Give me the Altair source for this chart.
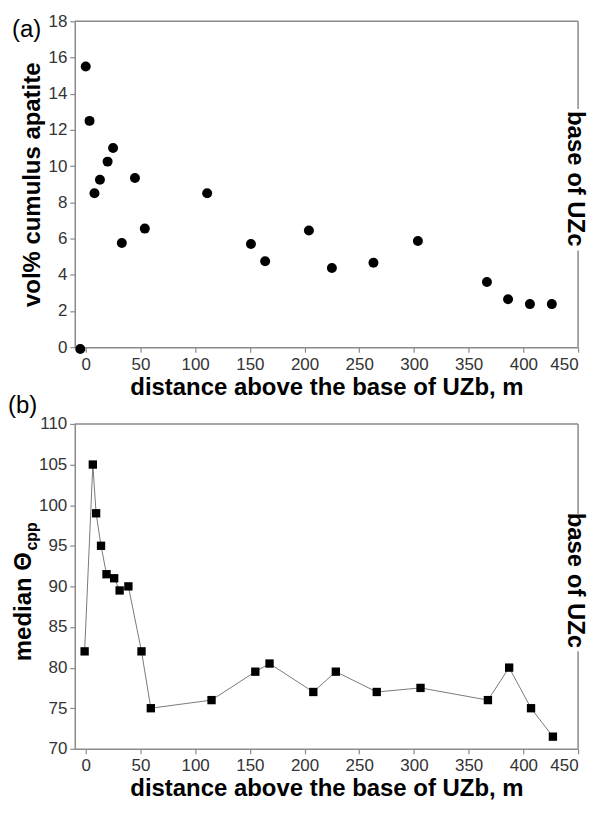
import altair as alt
import pandas as pd

# ---------------- data ----------------
dist_a = [-5, 0, 3.5, 8, 13, 20, 25, 33, 45, 54, 111, 151, 164, 204, 225, 263, 303.6, 366.7, 386, 406, 426]
apatite = [-0.1, 15.5, 12.5, 8.5, 9.25, 10.25, 11, 5.75, 9.35, 6.55, 8.5, 5.7, 4.75, 6.45, 4.37, 4.66, 5.87, 3.6, 2.65, 2.38, 2.38]

dist_b = [-1, 6.5, 9.5, 14, 19, 26, 31, 39, 51, 59.5, 115, 155, 168, 208, 228.6, 266, 306, 367.6, 387, 407, 427]
theta = [82, 105, 99, 95, 91.5, 91, 89.5, 90, 82, 75, 76, 79.5, 80.5, 77, 79.5, 77, 77.5, 76, 80, 75, 71.5]

x_ticks = [0, 50, 100, 150, 200, 250, 300, 350, 400, 450]
ya_ticks = [0, 2, 4, 6, 8, 10, 12, 14, 16, 18]
yb_ticks = [70, 75, 80, 85, 90, 95, 100, 105, 110]

x_title = "distance above the base of UZb, m"
ya_title = "vol% cumulus apatite"
yb_title_main = "median \u0398"
yb_title_sub = "cpp"
note = "base of UZc"

df_a = pd.DataFrame({"dist": dist_a, "val": apatite})
df_b = pd.DataFrame({"dist": dist_b, "val": theta})
one = pd.DataFrame({"k": [0]})

FONT = "Liberation Sans"
GRAY = "#8a8a8a"
W = 505
HA, HB = 327, 326


def xenc():
    return alt.X(
        "dist:Q",
        scale=alt.Scale(domain=[-10, 450], nice=False, zero=False),
        axis=alt.Axis(values=x_ticks, title=x_title, grid=False, tickSize=5,
                      labelPadding=4, titlePadding=3, labelOverlap=False),
    )


def frame(h, gap_top, gap_bot):
    rule = dict(color=GRAY, strokeWidth=1.5)
    top = alt.Chart(one).mark_rule(**rule).encode(
        x=alt.value(0), x2=alt.value(W), y=alt.value(0))
    r1 = alt.Chart(one).mark_rule(**rule).encode(
        x=alt.value(W), y=alt.value(0), y2=alt.value(gap_top))
    r2 = alt.Chart(one).mark_rule(**rule).encode(
        x=alt.value(W), y=alt.value(gap_bot), y2=alt.value(h))
    return top + r1 + r2


def note_mark(yc):
    return alt.Chart(one).mark_text(text=note, font=FONT, fontSize=24, fontWeight="bold",
                                    angle=90, align="center", baseline="middle",
                                    color="black").encode(
        x=alt.value(W - 3), y=alt.value(yc))


# ---------------- panel (a) ----------------
ya = alt.Y("val:Q", scale=alt.Scale(domain=[0, 18], nice=False, zero=False),
           axis=alt.Axis(values=ya_ticks, title=ya_title, grid=False, tickSize=5,
                         labelPadding=3, titlePadding=3, labelOverlap=False))
pts_a = alt.Chart(df_a).mark_circle(size=100, color="black", opacity=1).encode(x=xenc(), y=ya)
lab_a = alt.Chart(one).mark_text(text="(a)", font=FONT, fontSize=24, align="left",
                                 baseline="alphabetic", color="black").encode(
    x=alt.value(-63), y=alt.value(16))
panel_a = alt.layer(frame(HA, 88, 230), pts_a, lab_a, note_mark(158)).properties(width=W, height=HA)

# ---------------- panel (b) ----------------
yb = alt.Y("val:Q", scale=alt.Scale(domain=[70, 110], nice=False, zero=False),
           axis=alt.Axis(values=yb_ticks, title=None, grid=False, tickSize=5, labelPadding=3,
                         labelOverlap=False))
line_b = alt.Chart(df_b).mark_line(color="#7a7a7a", strokeWidth=1).encode(x=xenc(), y=yb)
pts_b = alt.Chart(df_b).mark_square(size=70, color="black", opacity=1).encode(x=xenc(), y=yb)
lab_b = alt.Chart(one).mark_text(text="(b)", font=FONT, fontSize=24, align="left",
                                 baseline="alphabetic", color="black").encode(
    x=alt.value(-67), y=alt.value(-11))
tb_main = alt.Chart(one).mark_text(text=yb_title_main, font=FONT, fontSize=24, fontWeight="bold",
                                   angle=270, align="left", baseline="alphabetic",
                                   color="black").encode(
    x=alt.value(-44), y=alt.value(238))
tb_sub = alt.Chart(one).mark_text(text=yb_title_sub, font=FONT, fontSize=16, fontWeight="bold",
                                  angle=270, align="left", baseline="alphabetic",
                                  color="black").encode(
    x=alt.value(-38), y=alt.value(127))
panel_b = alt.layer(frame(HB, 90, 228), line_b, pts_b, lab_b, tb_main, tb_sub,
                    note_mark(157)).properties(width=W, height=HB)

chart = alt.vconcat(panel_a, panel_b, spacing=77, bounds="flush").properties(
    padding={"left": 0, "top": 3, "right": 12, "bottom": 0}
).configure_view(stroke=None).configure_axis(
    labelFont=FONT, labelFontSize=17, labelColor="#333333",
    titleFont=FONT, titleFontSize=24, titleFontWeight="bold", titleColor="black",
    domainColor=GRAY, domainWidth=1.5, tickColor=GRAY, tickWidth=1.2,
)

chart.save("out.html", embed_options={"renderer": "svg", "actions": False})
